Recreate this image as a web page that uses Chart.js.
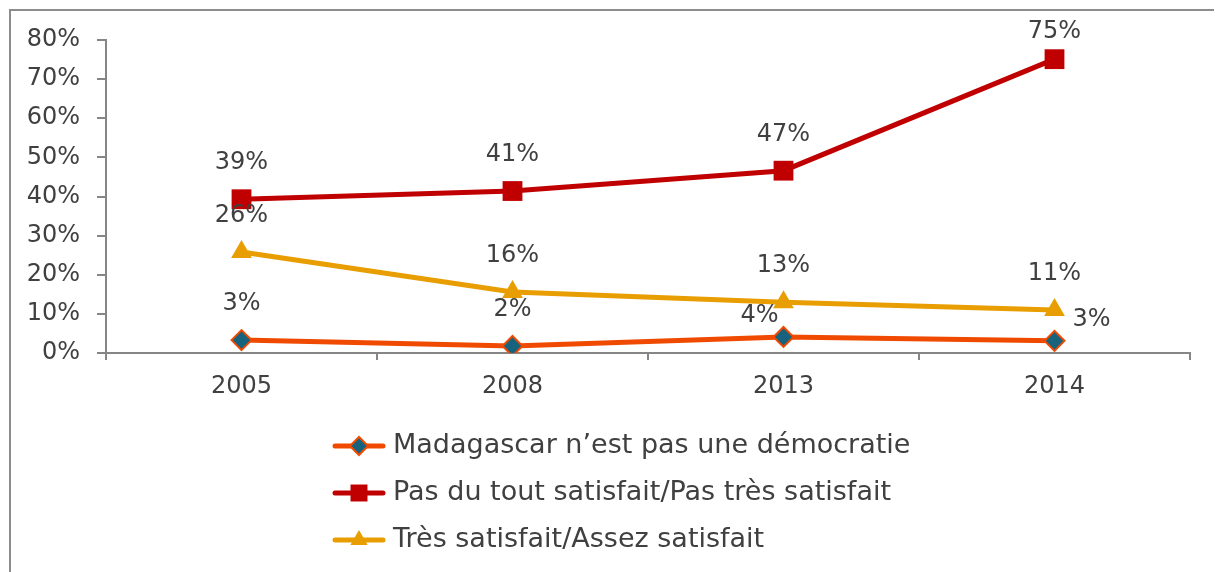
<!DOCTYPE html>
<html>
<head>
<meta charset="utf-8">
<script src="https://cdn.jsdelivr.net/npm/chart.js@4/dist/chart.umd.min.js"></script>
<style>
  html, body { margin: 0; padding: 0; background: #fff; overflow: hidden; }
  canvas { display: block; }
</style>
</head>
<body>
<canvas id="chart" width="1214" height="572"></canvas>
<script>
const years = ['2005', '2008', '2013', '2014'];
const seriesNames = [
    'Madagascar n\u2019est pas une démocratie',
    'Pas du tout satisfait/Pas très satisfait',
    'Très satisfait/Assez satisfait'
];
const pasDemocratie = [3.3, 1.8, 4.1, 3.1];
const pasSatisfait = [39.3, 41.4, 46.6, 75.1];
const satisfait = [25.8, 15.6, 13.0, 11.0];
const yTicks = [0, 10, 20, 30, 40, 50, 60, 70, 80];

const FONT = '"DejaVu Sans", sans-serif';
const TEXT = '#404040';
const AXIS = '#868686';

// label offsets from the point (style only)
const above = [0, -36];
const labelOffsets = [
    [above, above, [-24, -21], [37, -21]],
    [above, above, above, above],
    [above, above, above, above]
];

// chart frame: left and top edges of the outer box
const frame = {
    id: 'frame',
    beforeDraw(chart) {
        const ctx = chart.ctx;
        ctx.save();
        ctx.strokeStyle = '#8c8c8c';
        ctx.lineWidth = 2;
        ctx.beginPath();
        ctx.moveTo(10, chart.height);
        ctx.lineTo(10, 10);
        ctx.lineTo(chart.width, 10);
        ctx.stroke();
        ctx.restore();
    }
};

const dataLabels = {
    id: 'dataLabels',
    afterDatasetsDraw(chart) {
        const ctx = chart.ctx;
        ctx.save();
        ctx.font = '24px ' + FONT;
        ctx.fillStyle = TEXT;
        ctx.textAlign = 'center';
        ctx.textBaseline = 'middle';
        chart.data.datasets.forEach((ds, i) => {
            chart.getDatasetMeta(i).data.forEach((pt, j) => {
                const off = labelOffsets[i][j];
                const y = Math.max(pt.y + off[1], 32);
                ctx.fillText(Math.round(ds.data[j]) + '%', pt.x + off[0], y);
            });
        });
        ctx.restore();
    }
};

const sideLegend = {
    id: 'sideLegend',
    afterDraw(chart) {
        const ctx = chart.ctx;
        const x0 = 335, y0 = 446, gap = 47;
        ctx.save();
        chart.data.datasets.forEach((ds, i) => {
            const y = y0 + i * gap;
            ctx.strokeStyle = ds.borderColor;
            ctx.lineWidth = 5;
            ctx.lineCap = 'round';
            ctx.beginPath();
            ctx.moveTo(x0, y);
            ctx.lineTo(x0 + 48, y);
            ctx.stroke();
            ctx.fillStyle = ds.pointBackgroundColor;
            ctx.strokeStyle = ds.pointBorderColor;
            ctx.lineWidth = ds.pointBorderWidth || 1;
            Chart.helpers.drawPoint(ctx, {
                pointStyle: ds.pointStyle,
                radius: ds.legendRadius,
                borderWidth: ds.pointBorderWidth,
                rotation: 0
            }, x0 + 24, y);
            ctx.fillStyle = TEXT;
            ctx.font = '27px ' + FONT;
            ctx.textAlign = 'left';
            ctx.textBaseline = 'middle';
            ctx.fillText(ds.label, x0 + 58, y);
        });
        ctx.restore();
    }
};

new Chart(document.getElementById('chart'), {
    type: 'line',
    data: {
        labels: years,
        datasets: [{
            label: seriesNames[0],
            data: pasDemocratie,
            borderColor: '#F04A00',
            borderWidth: 5,
            pointStyle: 'rectRot',
            pointRadius: 10,
            legendRadius: 9,
            pointBackgroundColor: '#17627D',
            pointBorderColor: '#F04A00',
            pointBorderWidth: 2
        }, {
            label: seriesNames[1],
            data: pasSatisfait,
            borderColor: '#C00000',
            borderWidth: 5,
            pointStyle: 'rect',
            pointRadius: 14,
            legendRadius: 12,
            pointBackgroundColor: '#C00000',
            pointBorderColor: '#C00000',
            pointBorderWidth: 0
        }, {
            label: seriesNames[2],
            data: satisfait,
            borderColor: '#E89E00',
            borderWidth: 5,
            pointStyle: 'triangle',
            pointRadius: 12,
            legendRadius: 10,
            pointBackgroundColor: '#E89E00',
            pointBorderColor: '#E89E00',
            pointBorderWidth: 0
        }]
    },
    options: {
        responsive: false,
        animation: false,
        layout: { padding: { left: 10, top: 40, right: 24, bottom: 0 } },
        plugins: {
            legend: { display: false },
            tooltip: { enabled: false }
        },
        scales: {
            x: {
                offset: true,
                grid: { offset: true, drawOnChartArea: false, tickLength: 7, color: AXIS, lineWidth: 2 },
                border: { color: AXIS, width: 2 },
                ticks: { color: TEXT, font: { family: FONT, size: 24 }, padding: 12, maxRotation: 0 },
                afterFit(s) { s.height = 219; }
            },
            y: {
                min: 0,
                max: 80,
                afterBuildTicks(s) { s.ticks = yTicks.map(v => ({ value: v })); },
                grid: { drawOnChartArea: false, tickLength: 9, color: AXIS, lineWidth: 2 },
                border: { color: AXIS, width: 2 },
                ticks: { color: TEXT, font: { family: FONT, size: 24 }, padding: 17, callback: v => v + '%' },
                afterFit(s) { s.width = 96; }
            }
        }
    },
    plugins: [frame, dataLabels, sideLegend]
});
</script>
</body>
</html>
